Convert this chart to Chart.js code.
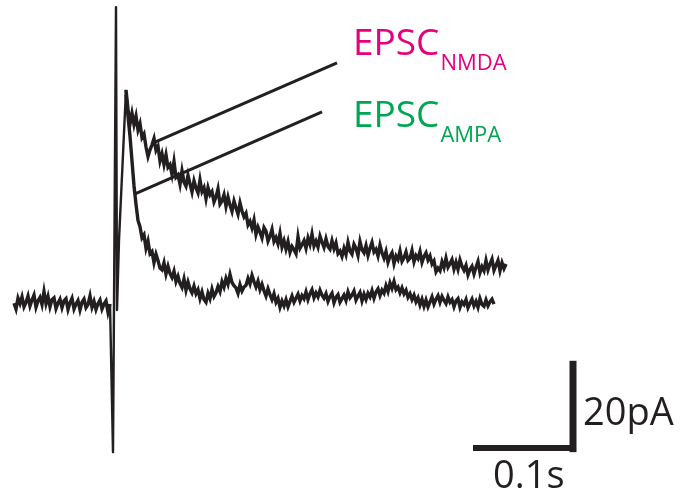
<!DOCTYPE html>
<html>
<head>
<meta charset="utf-8">
<script src="https://cdn.jsdelivr.net/npm/chart.js@4/dist/chart.umd.min.js"></script>
<style>
  html, body { margin: 0; padding: 0; background: #ffffff; }
  #wrap { width: 681px; height: 493px; position: relative; }
</style>
</head>
<body>
<div id="wrap"><canvas id="c" width="681" height="493"></canvas></div>
<script>
// ---- Data (time in ms, current in pA) ----
const sampleStep = 2; // ms between samples

const baselineStart = -101;
const baselineCurrent = [
  0.4, -0.9, 1.5, 0.3, 1.8, -0.4, 0.6, 2.0, -0.2, 1.1,
  2.2, -0.5, 0.9, 1.7, 0.1, 3.0, 0.3, 1.9, -0.4, 1.2,
  1.6, -0.8, 0.4, 1.3, -0.6, 0.9, 1.4, -1.0, 0.5, 1.5,
  -0.9, 0.2, 1.0, -1.1, 0.6, 1.3, -0.6, 0.1, 2.0, -0.5,
  0.8, -1.0, 0.3, 1.1, -0.9, 0.2, 0.9, -1.6, 0.2
];

const artifactTime = [-5, -2, 1, 2, 4, 11];
const artifactCurrent = [0.2, -32.7, 66.2, -1.1, 14.4, 47.8];

const nmdaStart = 11;
const nmdaCurrent = [
  47.8, 43.5, 40.2, 42.6, 40.1, 42.0, 38.9, 40.3, 37.2, 38.0,
  35.1, 33.0, 34.5, 35.6, 37.0, 34.4, 35.3, 32.0, 33.6, 31.2,
  33.4, 30.6, 31.2, 29.0, 31.9, 28.4, 28.9, 26.8, 29.8, 27.3,
  26.4, 28.8, 26.9, 25.1, 27.6, 26.0, 24.9, 27.8, 25.2, 26.1,
  23.6, 26.1, 24.5, 25.2, 22.9, 24.0, 25.8, 22.4, 23.1, 24.5,
  21.9, 24.0, 22.2, 20.8, 23.1, 21.6, 20.2, 22.7, 20.9, 19.6,
  20.4, 17.8, 18.6, 17.1, 18.9, 15.7, 17.3, 16.2, 14.9, 17.2,
  16.4, 14.2, 15.3, 16.8, 14.1, 15.0, 13.6, 15.9, 12.9, 14.3,
  12.4, 14.1, 11.7, 13.0, 12.3, 11.4, 15.2, 12.6, 13.4, 14.3,
  12.6, 14.9, 13.5, 15.8, 13.1, 14.2, 12.9, 15.3, 14.0, 12.8,
  14.7, 13.0, 12.4, 14.3, 12.5, 13.8, 11.4, 12.0, 10.8, 12.6,
  11.2, 13.9, 12.0, 11.3, 13.5, 12.6, 11.0, 14.1, 12.3, 11.6,
  13.2, 11.0, 12.6, 13.9, 11.8, 12.4, 10.9, 13.3, 11.6, 10.4,
  11.9, 9.5, 10.8, 11.6, 9.2, 10.9, 10.1, 12.0, 9.7, 10.5,
  11.8, 9.9, 10.4, 12.1, 9.6, 11.0, 10.3, 11.9, 9.5, 10.8,
  11.6, 10.0, 10.9, 9.1, 9.8, 7.4, 8.2, 7.6, 9.6, 8.3,
  10.4, 8.4, 9.2, 10.1, 8.0, 9.5, 7.9, 10.0, 8.6, 7.7,
  8.8, 6.7, 7.9, 8.6, 6.9, 8.4, 9.7, 7.2, 8.5, 7.6,
  9.9, 7.8, 9.1, 10.2, 7.7, 8.8, 9.9, 7.6, 9.4, 8.1,
  9.1
];

const ampaStart = 11;
const ampaCurrent = [
  46.7, 42.0, 37.5, 32.0, 26.5, 22.4, 18.8, 17.4, 14.9, 15.6,
  12.6, 14.2, 11.4, 11.9, 9.4, 11.3, 9.9, 8.2, 7.8, 9.4,
  6.9, 8.6, 7.0, 6.1, 7.5, 5.2, 6.4, 4.8, 3.9, 5.8,
  3.3, 5.1, 3.6, 2.7, 4.2, 2.5, 3.4, 1.4, 2.9, 1.2,
  0.6, 2.6, 1.4, 3.5, 1.9, 2.7, 4.1, 3.0, 5.2, 4.0,
  5.9, 4.6, 6.8, 5.0, 4.3, 3.8, 2.6, 4.5, 3.1, 4.0,
  4.4, 5.9, 4.7, 6.6, 5.2, 4.0, 5.3, 3.4, 4.6, 3.2,
  2.0, 3.6, 2.3, 1.2, 2.5, 0.6, 1.5, -0.5, 0.9, -0.2,
  1.2, -0.4, 0.8, 2.0, 0.6, 1.5, 2.4, 0.9, 2.1, 1.4,
  2.9, 1.2, 2.5, 3.4, 1.6, 2.7, 1.8, 3.3, 2.2, 1.5,
  2.5, 0.8, 1.9, 2.6, 0.5, 1.7, 2.3, 0.6, 1.4, 2.2,
  1.0, 2.9, 1.6, 2.2, 3.1, 1.1, 2.0, 2.8, 0.9, 2.4,
  1.2, 2.6, 1.8, 3.2, 1.5, 2.9, 3.6, 2.1, 3.3, 2.6,
  4.3, 3.0, 4.9, 3.7, 5.2, 3.4, 4.0, 2.7, 3.8, 2.5,
  3.3, 1.7, 2.5, 1.2, 2.2, 0.7, 1.6, 0.0, 1.3, -0.3,
  1.1, -0.4, 0.7, 1.8, 0.2, 1.3, 2.1, 0.6, 1.9, 1.0,
  0.3, 1.8, 0.6, 1.2, -0.4, 0.9, 1.4, -0.5, 0.7, 0.1,
  1.2, -0.6, 0.4, 1.3, -0.2, 0.8, -0.5, 1.4, 0.1, -0.3,
  1.1, -0.2, 0.7, 1.3, 0.2
];

// Pointer lines from traces to labels
const nmdaPointerTime = [40, 222];
const nmdaPointerCurrent = [36.2, 53.8];
const ampaPointerTime = [20, 207];
const ampaPointerCurrent = [24.7, 42.9];

// Scale bars: 100 ms and 20 pA
const scaleBarTime = [358, 458];
const scaleBarCurrent = [-32.4, -12.4];

// Labels
const labelMain = ['EPSC', 'EPSC'];
const labelSub = ['NMDA', 'AMPA'];
const labelTime = [238, 238];
const labelCurrent = [55.6, 39.6];
const labelColor = ['#e5007d', '#00a651'];
const scaleLabelText = ['20pA', '0.1s'];
const scaleLabelTime = [468, 378];
const scaleLabelCurrent = [-26.7, -40.7];

// ---- Build ----
const ink = '#231f20';
function series(start, vals) { return vals.map((v, i) => ({ x: start + i * sampleStep, y: v })); }
function pairs(ts, vs) { return ts.map((t, i) => ({ x: t, y: vs[i] })); }

const traceStyle = { borderColor: ink, borderWidth: 3.4, pointRadius: 0, tension: 0, fill: false, borderJoinStyle: 'miter' };

const datasets = [
  Object.assign({ label: 'baseline', data: series(baselineStart, baselineCurrent) }, traceStyle),
  Object.assign({ label: 'artifact', data: pairs(artifactTime, artifactCurrent) }, traceStyle, { borderWidth: 2.4, borderJoinStyle: 'round' }),
  Object.assign({ label: 'NMDA', data: series(nmdaStart, nmdaCurrent) }, traceStyle),
  Object.assign({ label: 'AMPA', data: series(ampaStart, ampaCurrent) }, traceStyle),
  { label: 'ptrN', data: pairs(nmdaPointerTime, nmdaPointerCurrent), borderColor: ink, borderWidth: 3, pointRadius: 0 },
  { label: 'ptrA', data: pairs(ampaPointerTime, ampaPointerCurrent), borderColor: ink, borderWidth: 3, pointRadius: 0 },
  { label: 'barT', data: [{ x: scaleBarTime[0], y: -31.8 }, { x: scaleBarTime[1] + 3, y: -31.8 }], borderColor: ink, borderWidth: 6, pointRadius: 0, borderCapStyle: 'butt' },
  { label: 'barI', data: [{ x: scaleBarTime[1], y: scaleBarCurrent[0] - 0.3 }, { x: scaleBarTime[1], y: scaleBarCurrent[1] }], borderColor: ink, borderWidth: 7, pointRadius: 0, borderCapStyle: 'butt' }
];

const textPlugin = {
  id: 'texts',
  afterDatasetsDraw(chart) {
    const ctx = chart.ctx, xs = chart.scales.x, ys = chart.scales.y;
    ctx.save();
    ctx.textBaseline = 'alphabetic';
    ctx.textAlign = 'left';
    for (let i = 0; i < labelMain.length; i++) {
      const px = xs.getPixelForValue(labelTime[i]);
      const py = ys.getPixelForValue(labelCurrent[i]);
      ctx.fillStyle = labelColor[i];
      ctx.font = '37px "Open Sans"';
      ctx.fillText(labelMain[i], px, py);
      const w = ctx.measureText(labelMain[i]).width;
      ctx.font = '22px "Open Sans"';
      ctx.fillText(labelSub[i], px + w + 1, py + 15);
    }
    ctx.fillStyle = ink;
    ctx.font = '38px "Open Sans"';
    for (let i = 0; i < scaleLabelText.length; i++) {
      ctx.fillText(scaleLabelText[i], xs.getPixelForValue(scaleLabelTime[i]), ys.getPixelForValue(scaleLabelCurrent[i]));
    }
    ctx.restore();
  }
};

new Chart(document.getElementById('c'), {
  type: 'line',
  data: { datasets },
  options: {
    responsive: false,
    animation: false,
    layout: { padding: 0 },
    plugins: { legend: { display: false }, tooltip: { enabled: false } },
    scales: {
      x: { type: 'linear', display: false, min: -115, max: 566 },
      y: { type: 'linear', display: false, min: -41.78, max: 67.78 }
    }
  },
  plugins: [textPlugin]
});
</script>
</body>
</html>
